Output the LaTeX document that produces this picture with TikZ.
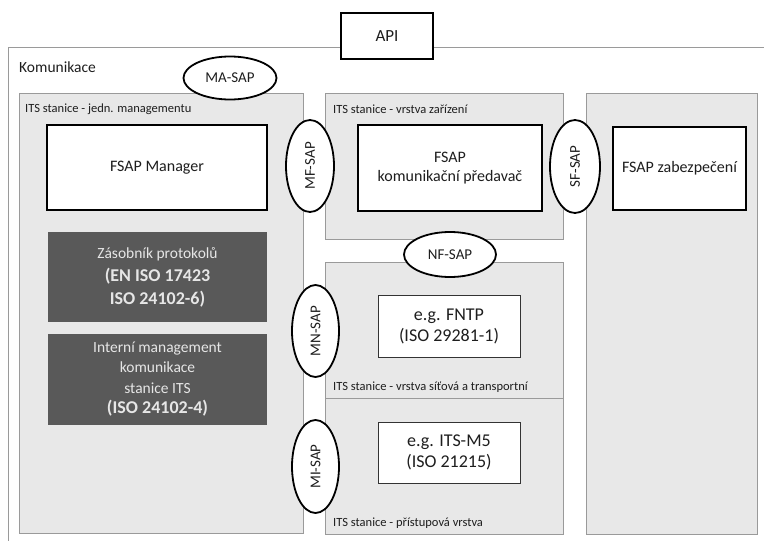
\documentclass[tikz,border=0pt]{standalone}
\usepackage{fontspec}
\setmainfont{Carlito}
\usepackage{graphicx}
\usetikzlibrary{shapes.geometric}
\definecolor{panelfill}{HTML}{E8E8E8}
\definecolor{paneldraw}{HTML}{9A9A9A}
\definecolor{darkbox}{HTML}{595959}
\definecolor{darktext}{HTML}{E6E6E6}
\definecolor{txt}{HTML}{1E1E1E}
\tikzset{
  panel/.style={draw=paneldraw, fill=panelfill, line width=0.9pt},
  thickbox/.style={draw=black, fill=white, line width=2.6pt, inner sep=0pt, align=center, text=txt, font=\fontsize{16}{19}\selectfont},
  midbox/.style={draw=black, fill=white, line width=1.6pt, inner sep=0pt, align=center, text=txt, font=\fontsize{16}{19}\selectfont},
  thinbox/.style={draw=black!80, fill=white, line width=0.8pt, inner sep=0pt, align=center, text=txt, font=\fontsize{18}{21}\selectfont},
  darkbx/.style={draw=none, fill=darkbox, inner sep=0pt, align=center, text=darktext},
  sap/.style={ellipse, draw=black, fill=white, line width=1.8pt, inner sep=0pt, text=txt, font=\fontsize{15}{18}\selectfont},
  plabel/.style={anchor=west, inner sep=0pt, text=txt, font=\fontsize{12.5}{15}\selectfont},
}
\begin{document}
\begin{tikzpicture}[x=1pt,y=-1pt]
\useasboundingbox (0,0) rectangle (764,541);
% outer frame
\draw[draw=paneldraw, line width=1pt] (8,541) -- (8,47) -- (764,47);
\node[anchor=west, inner sep=0pt, text=txt, font=\fontsize{15.5}{18}\selectfont] (kom) at (19,67) {Komunikace};
% API
\node[draw=black, fill=white, line width=1.8pt, minimum width=92pt, minimum height=46pt, inner sep=0pt, text=txt, font=\fontsize{17}{19}\selectfont] (api) at (387,36) {API};
% panels
\node[panel, minimum width=284pt, minimum height=440pt, inner sep=0pt] (mgmt) at (161,313) {};
\node[panel, minimum width=238pt, minimum height=146pt, inner sep=0pt] (fac) at (444,166) {};
\node[panel, minimum width=238pt, minimum height=136pt, inner sep=0pt] (net) at (444,330) {};
\node[panel, minimum width=238pt, minimum height=136pt, inner sep=0pt] (acc) at (444,466) {};
\node[panel, minimum width=171pt, minimum height=441pt, inner sep=0pt] (sec) at (671.5,313.5) {};
% panel labels
\node[plabel] (lmgmt) at (25,109) {ITS stanice - jedn. managementu};
\node[plabel] (lfac) at (333,109) {ITS stanice - vrstva zařízení};
\node[plabel] (lnet) at (333,387) {ITS stanice - vrstva síťová a transportní};
\node[plabel] (lacc) at (333,523) {ITS stanice - přístupová vrstva};
% boxes
\node[thickbox, minimum width=220pt, minimum height=85pt] (mgr) at (157,167.5) {FSAP Manager};
\node[thickbox, minimum width=184pt, minimum height=86pt] (fwd) at (450,168) {FSAP\\komunikační předavač};
\node[midbox, minimum width=133pt, minimum height=83pt] (secbox) at (679.5,168.5) {FSAP zabezpečení};
\node[darkbx, minimum width=219pt, minimum height=90pt, font=\fontsize{15.5}{23}\selectfont] (stack) at (157.5,277) {Zásobník protokolů\\{\fontsize{18}{21}\selectfont\bfseries (EN ISO 17423}\\{\fontsize{18}{21}\selectfont\bfseries ISO 24102-6)}};
\node[darkbx, minimum width=219pt, minimum height=91pt, font=\fontsize{15.5}{20.5}\selectfont] (intm) at (157.5,379) {Interní management\\komunikace\\stanice ITS\\{\fontsize{18}{21}\selectfont\bfseries (ISO 24102-4)}};
\node[thinbox, minimum width=142pt, minimum height=62pt] (fntp) at (449,326) {e.g. FNTP\\(ISO 29281-1)};
\node[thinbox, minimum width=142pt, minimum height=61pt] (m5) at (449,452.5) {e.g. ITS-M5\\(ISO 21215)};
% SAP ellipses
\node[sap, minimum width=93pt, minimum height=43pt] (masap) at (230,78) {MA-SAP};
\node[sap, minimum width=48pt, minimum height=92pt] (mfsap) at (310,166) {\rotatebox{90}{MF-SAP}};
\node[sap, minimum width=50pt, minimum height=93pt] (sfsap) at (575,166.5) {\rotatebox{90}{SF-SAP}};
\node[sap, minimum width=92pt, minimum height=45pt] (nfsap) at (450,254.5) {NF-SAP};
\node[sap, minimum width=47pt, minimum height=92pt] (mnsap) at (315.5,331) {\rotatebox{90}{MN-SAP}};
\node[sap, minimum width=47pt, minimum height=93pt] (misap) at (315.5,466.5) {\rotatebox{90}{MI-SAP}};
\end{tikzpicture}
\end{document}
